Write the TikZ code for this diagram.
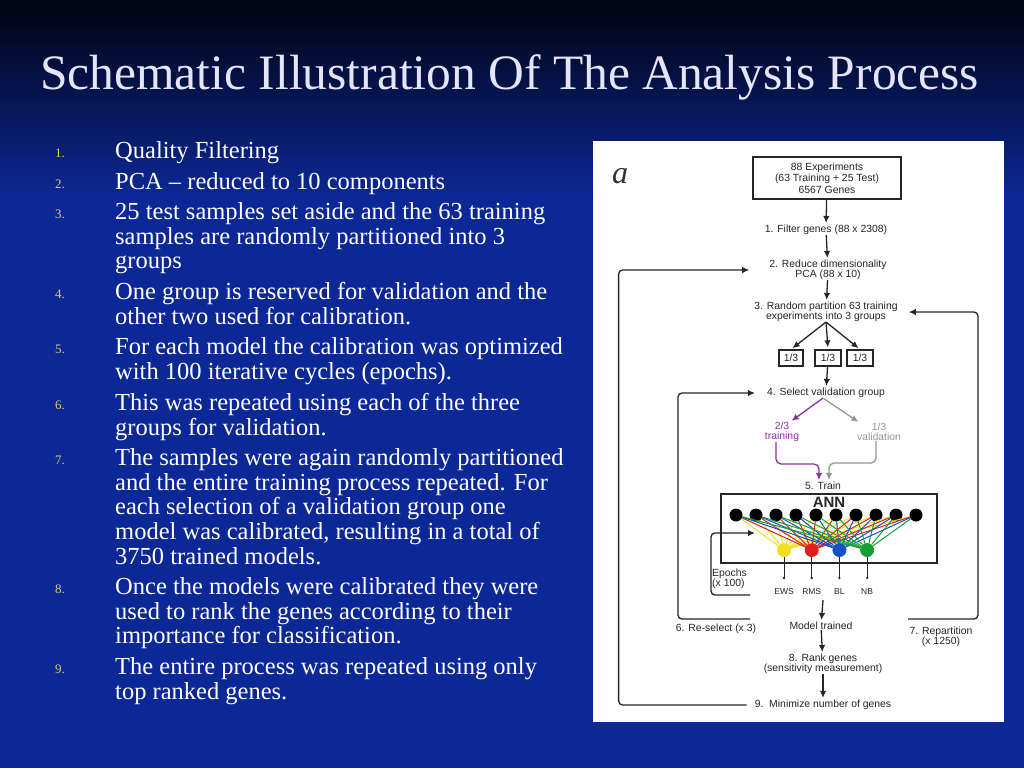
\documentclass[tikz,border=0pt]{standalone}
\usepackage{fontspec}
\usetikzlibrary{arrows.meta}
\setmainfont{Liberation Serif}
\newfontfamily\chartfont{Liberation Sans}
\definecolor{slidetop}{RGB}{1,3,16}
\definecolor{slideblue}{RGB}{12,40,150}
\definecolor{titlecol}{RGB}{228,228,250}
\definecolor{numcol}{RGB}{222,200,120}
\definecolor{trainpurple}{RGB}{140,50,155}
\definecolor{valgrey}{RGB}{150,150,150}
\definecolor{annyellow}{RGB}{240,225,30}
\definecolor{annred}{RGB}{225,30,30}
\definecolor{annblue}{RGB}{20,80,200}
\definecolor{anngreen}{RGB}{20,160,50}

\begin{document}
\begin{tikzpicture}[x=1pt,y=-1pt,
  every node/.style={inner sep=0pt},
  item/.style={anchor=north west, align=left, text=white, font=\fontsize{24.5}{24.8}\selectfont},
  num/.style={anchor=base west, text=numcol, font=\fontsize{13}{15}\selectfont},
  chart/.style={align=center, text=black!85, font=\chartfont\fontsize{10.4}{10}\selectfont},
  box/.style={chart, draw=black!85, line width=1.3pt},
  flow/.style={-{Latex[length=7pt,width=6.5pt]}, line width=1.3pt, draw=black!85, shorten >=2pt},
  loop/.style={flow, rounded corners=4pt},
  inpt/.style={circle, fill=black, minimum size=13},
  outpt/.style={circle, minimum size=14}]

  % slide background
  \useasboundingbox (0,0) rectangle (1024,768);
  \fill[slideblue] (0,0) rectangle (1024,768);
  \shade[top color=slidetop, bottom color=slideblue] (0,0) rectangle (1024,200);

  \node[anchor=base west, text=titlecol, font=\fontsize{49.5}{52}\selectfont] (title) at (40,89) {Schematic Illustration Of The Analysis Process};

  % numbered list
  \node[num] (num1) at (55,157) {1.};
  \node[item] (item1) at (115,141) {Quality Filtering};
  \node[num] (num2) at (55,188) {2.};
  \node[item] (item2) at (115,172) {PCA – reduced to 10 components};
  \node[num] (num3) at (55,218) {3.};
  \node[item] (item3) at (115,202) {25 test samples set aside and the 63 training\\samples are randomly partitioned into 3\\groups};
  \node[num] (num4) at (55,298) {4.};
  \node[item] (item4) at (115,282) {One group is reserved for validation and the\\other two used for calibration.};
  \node[num] (num5) at (55,353) {5.};
  \node[item] (item5) at (115,337) {For each model the calibration was optimized\\with 100 iterative cycles (epochs).};
  \node[num] (num6) at (55,409) {6.};
  \node[item] (item6) at (115,393) {This was repeated using each of the three\\groups for validation.};
  \node[num] (num7) at (55,464) {7.};
  \node[item] (item7) at (115,448) {The samples were again randomly partitioned\\and the entire training process repeated. For\\each selection of a validation group one\\model was calibrated, resulting in a total of\\3750 trained models.};
  \node[num] (num8) at (55,593) {8.};
  \node[item] (item8) at (115,577) {Once the models were calibrated they were\\used to rank the genes according to their\\importance for classification.};
  \node[num] (num9) at (55,673) {9.};
  \node[item] (item9) at (115,657) {The entire process was repeated using only\\top ranked genes.};

  % figure panel
  \fill[white] (593,141) rectangle (1004,722);
  \node[anchor=base, font=\itshape\fontsize{32}{32}\selectfont, text=black!80] (panellbl) at (620,183) {a};

  \node[box, minimum width=148, minimum height=42, font=\chartfont\fontsize{10.4}{11.5}\selectfont] (exp) at (827,178) {88 Experiments\\(63 Training + 25 Test)\\6567 Genes};
  \node[chart] (filter) at (826,230) {1. Filter genes (88 x 2308)};
  \node[chart] (reduce) at (828,270) {2. Reduce dimensionality\\PCA (88 x 10)};
  \node[chart] (part) at (826,312) {3. Random partition 63 training\\experiments into 3 groups};
  \node[box, minimum width=24, minimum height=16] (g1) at (791,358) {1/3};
  \node[box, minimum width=26, minimum height=16] (g2) at (828,358) {1/3};
  \node[box, minimum width=26, minimum height=16] (g3) at (860,358) {1/3};
  \node[chart] (select) at (826,393) {4. Select validation group};
  \node[chart, text=trainpurple] (trn) at (782,432) {2/3\\training};
  \node[chart, text=valgrey] (vld) at (879,432) {1/3\\validation};
  \node[chart] (train) at (823,486) {5. Train};

  \draw[flow] (exp) -- (filter);
  \draw[flow] (filter) -- (reduce);
  \draw[flow] (reduce) -- (part);
  \draw[flow] (part.south) -- (g1.north);
  \draw[flow] (part.south) -- (g2.north);
  \draw[flow] (part.south) -- (g3.north);
  \draw[flow] (g2) -- (select);
  \draw[flow, draw=trainpurple] ([xshift=-3]select.south) -- ([xshift=8]trn.north);
  \draw[flow, draw=valgrey] ([xshift=-3]select.south) -- ([xshift=-19]vld.north);
  \draw[flow, draw=trainpurple, rounded corners=5pt] ([xshift=-6]trn.south) -- ++(0,22) -| ([xshift=-4]train.north);
  \draw[flow, draw=valgrey, rounded corners=5pt] ([xshift=-3]vld.south) -- ++(0,22) -| ([xshift=6]train.north);

  % network
  \node[draw=black!85, line width=1.3pt, minimum width=216, minimum height=69] (ann) at (829,528.5) {};
  \node[chart, font=\chartfont\bfseries\fontsize{15}{15}\selectfont] (annlbl) at (829,502) {ANN};
  \foreach \i in {1,...,10}
    \node[inpt] (in\i) at ({736+20*(\i-1)},515) {};
  \foreach \j/\c/\t in {1/annyellow/EWS, 2/annred/RMS, 3/annblue/BL, 4/anngreen/NB} {
    \node[outpt, fill=\c] (o\j) at ({784+27.7*(\j-1)},550) {};
    \coordinate (e\j) at ({784+27.7*(\j-1)},578);
    \node[chart, font=\chartfont\fontsize{8.5}{9}\selectfont] (lab\j) at ({784+27.7*(\j-1)},592) {\t};
  }
  \foreach \j/\c in {1/annyellow, 2/annred, 3/annblue, 4/anngreen}
    \foreach \i in {1,...,10}
      \draw[\c, line width=1pt] (in\i) -- (o\j);
  \foreach \j in {1,...,4} {
    \draw[black!85, line width=1pt] (o\j) -- (e\j);
    \fill[black!85] (e\j) circle (1.3);
  }

  \node[chart] (model) at (821,626) {Model trained};
  \node[chart] (rank) at (823,664) {8. Rank genes\\(sensitivity measurement)};
  \node[chart] (mini) at (823,705) {9.\ \ Minimize number of genes};
  \coordinate (outbase) at (823,600);
  \draw[flow] (outbase) -- (model);
  \draw[flow] (model) -- (rank);
  \draw[flow] (rank) -- (mini);

  % feedback loops
  \node[chart, align=left, anchor=west] (epochs) at (712,579) {Epochs\\(x 100)};
  \node[chart] (resel) at (716,629) {6. Re-select (x 3)};
  \node[chart] (repart) at (941,637) {7. Repartition\\(x 1250)};
  \coordinate (ep) at (750,595);
  \coordinate (epin) at (757,533);
  \coordinate (rs) at (750,619);
  \coordinate (rp) at (908,619);
  \draw[loop] (ep) -- ++(-39,0) |- (epin);
  \draw[loop] (rs) -- ++(-72,0) |- ([xshift=-10]select.west);
  \draw[loop] (rp) -- ++(70,0) |- ([xshift=9]part.east);
  \draw[loop] ([xshift=-8]mini.west) -- ++(-128,0) |- ([xshift=-18]reduce.west);
\end{tikzpicture}
\end{document}
